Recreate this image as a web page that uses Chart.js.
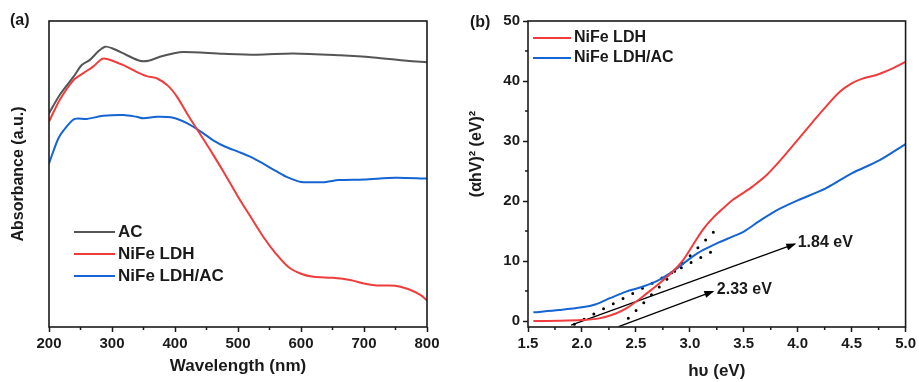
<!DOCTYPE html>
<html>
<head>
<meta charset="utf-8">
<script src="https://cdn.jsdelivr.net/npm/chart.js@4.4.1/dist/chart.umd.min.js"></script>
<style>
  body { margin: 0; background: #fff; }
  #wrap { position: relative; width: 919px; height: 382px; }
  canvas { position: absolute; top: 0; }
</style>
</head>
<body>
<div id="wrap">
  <canvas id="absChart" width="460" height="382" style="left:0"></canvas>
  <canvas id="taucChart" width="459" height="382" style="left:460px"></canvas>
</div>
<script>
// ---- panel (a): UV-vis absorbance ----
const acWl = [200, 217, 239, 252, 265, 278, 289, 300, 323, 344, 358, 376, 397, 413, 477, 530, 588, 662, 715, 768, 800];
const acAbs = [0.698, 0.758, 0.818, 0.856, 0.873, 0.900, 0.916, 0.911, 0.889, 0.870, 0.870, 0.883, 0.894, 0.899, 0.893, 0.890, 0.894, 0.888, 0.881, 0.870, 0.865];

const ldhWl = [200, 217, 239, 254, 270, 284, 292, 318, 339, 355, 371, 389, 403, 419, 440, 460, 480, 500, 520, 540, 560, 580, 600, 620, 650, 680, 700, 720, 750, 770, 790, 800];
const ldhAbs = [0.671, 0.742, 0.807, 0.829, 0.851, 0.876, 0.876, 0.856, 0.834, 0.820, 0.813, 0.788, 0.753, 0.698, 0.630, 0.565, 0.497, 0.426, 0.360, 0.295, 0.240, 0.196, 0.174, 0.164, 0.161, 0.153, 0.142, 0.136, 0.135, 0.124, 0.104, 0.087];

const compWl = [200, 215, 228, 241, 260, 286, 318, 339, 350, 371, 397, 419, 445, 460, 480, 500, 520, 540, 560, 580, 600, 620, 640, 660, 700, 750, 800];
const compAbs = [0.534, 0.617, 0.655, 0.680, 0.680, 0.690, 0.693, 0.687, 0.682, 0.687, 0.684, 0.666, 0.633, 0.611, 0.589, 0.573, 0.556, 0.534, 0.510, 0.488, 0.474, 0.473, 0.474, 0.480, 0.482, 0.488, 0.485];

const wlTicks = [200, 300, 400, 500, 600, 700, 800];
const wlMinor = [250, 350, 450, 550, 650, 750];

// ---- panel (b): Tauc plot ----
const ldhEv = [1.55, 1.79, 2.0, 2.16, 2.32, 2.41, 2.5, 2.6, 2.72, 2.84, 2.94, 3.03, 3.12, 3.21, 3.31, 3.4, 3.5, 3.58, 3.71, 3.83, 4.0, 4.14, 4.26, 4.39, 4.5, 4.6, 4.73, 4.88, 5.0];
const ldhTauc = [0, 0.05, 0.17, 0.44, 1.3, 2.1, 3.2, 4.6, 6.3, 8.2, 10.2, 12.7, 15.2, 17.1, 18.8, 20.2, 21.4, 22.4, 24.3, 26.6, 30.2, 33.2, 35.7, 38.2, 39.6, 40.4, 41.0, 42.1, 43.2];

const compEv = [1.55, 1.79, 2.0, 2.13, 2.26, 2.41, 2.56, 2.72, 2.87, 3.0, 3.12, 3.27, 3.4, 3.5, 3.64, 3.8, 4.0, 4.26, 4.5, 4.76, 5.0];
const compTauc = [1.44, 1.83, 2.28, 2.8, 3.8, 4.9, 5.7, 6.9, 8.6, 10.4, 11.8, 13.1, 14.1, 14.9, 16.6, 18.4, 20.1, 22.1, 24.6, 26.8, 29.5];

// dotted tangents
const fitCompEv = [1.93, 3.26];
const fitCompTauc = [-0.55, 12.1];
const fitLdhEv = [2.43, 3.24];
const fitLdhTauc = [0.45, 15.2];

// arrows + band gap labels
const arrow1Ev = [1.90, 3.97];
const arrow1Tauc = [-0.67, 12.8];
const arrow2Ev = [2.34, 3.21];
const arrow2Tauc = [-0.94, 4.9];
const gapLabels = ['1.84 eV', '2.33 eV'];
const gapLabelEv = [4.0, 3.25];
const gapLabelTauc = [13.1, 5.17];

const evTicks = [1.5, 2.0, 2.5, 3.0, 3.5, 4.0, 4.5, 5.0];
const evMinor = [1.75, 2.25, 2.75, 3.25, 3.75, 4.25, 4.75];
const taucTicks = [0, 10, 20, 30, 40, 50];
const taucMinor = [5, 15, 25, 35, 45];

const GREY = '#555555';
const RED = '#f03c3c';
const BLUE = '#1464d4';
const INK = '#1a1a1a';
const FONT = "'Liberation Sans', Arial, Helvetica, sans-serif";

Chart.defaults.font.family = FONT;
Chart.defaults.font.weight = 'bold';
Chart.defaults.color = INK;

const xy = (xs, ys) => xs.map((x, i) => ({ x, y: ys[i] }));
const fixedTicks = values => scale => { scale.ticks = values.map(v => ({ value: v })); };

function curve(label, xs, ys, color) {
  return { label, data: xy(xs, ys), borderColor: color, borderWidth: 2, pointRadius: 0, tension: 0.3 };
}

function drawFrame(ctx, area) {
  ctx.save();
  ctx.strokeStyle = INK;
  ctx.lineWidth = 1.6;
  ctx.strokeRect(area.left, area.top, area.right - area.left, area.bottom - area.top);
  ctx.restore();
}

function drawMinor(ctx, scale, values, len) {
  ctx.save();
  ctx.strokeStyle = INK;
  ctx.lineWidth = 1.5;
  ctx.beginPath();
  values.forEach(v => {
    const p = scale.getPixelForValue(v);
    if (scale.isHorizontal()) {
      ctx.moveTo(p, scale.top);
      ctx.lineTo(p, scale.top + len);
    } else {
      ctx.moveTo(scale.right, p);
      ctx.lineTo(scale.right - len, p);
    }
  });
  ctx.stroke();
  ctx.restore();
}

function drawLegend(ctx, items, x, y, gap, lineLen, size) {
  ctx.save();
  ctx.font = `bold ${size}px ${FONT}`;
  ctx.textBaseline = 'middle';
  ctx.textAlign = 'left';
  items.forEach((it, i) => {
    const yy = y + i * gap;
    ctx.strokeStyle = it.borderColor;
    ctx.lineWidth = 2.2;
    ctx.beginPath();
    ctx.moveTo(x, yy);
    ctx.lineTo(x + lineLen, yy);
    ctx.stroke();
    ctx.fillStyle = INK;
    ctx.fillText(it.label, x + lineLen + 3, yy);
  });
  ctx.restore();
}

function drawText(ctx, text, x, y, size, align) {
  ctx.save();
  ctx.font = `bold ${size}px ${FONT}`;
  ctx.fillStyle = INK;
  ctx.textAlign = align || 'left';
  ctx.textBaseline = 'middle';
  ctx.fillText(text, x, y);
  ctx.restore();
}

const axisBase = {
  grid: { display: true, drawOnChartArea: false, drawTicks: true, tickLength: 5, tickWidth: 1.5, tickColor: INK },
  border: { display: false },
  ticks: { font: { size: 15, weight: 'bold' }, color: INK, padding: 3, maxRotation: 0, autoSkip: false }
};

// ---------- chart (a) ----------
const absDatasets = [
  curve('AC', acWl, acAbs, GREY),
  curve('NiFe LDH', ldhWl, ldhAbs, RED),
  curve('NiFe LDH/AC', compWl, compAbs, BLUE)
];

new Chart(document.getElementById('absChart'), {
  type: 'line',
  data: { datasets: absDatasets },
  options: {
    responsive: false,
    animation: false,
    layout: { padding: { top: 21, right: 33, left: 0, bottom: 0 } },
    plugins: { legend: { display: false }, tooltip: { enabled: false } },
    scales: {
      x: {
        ...axisBase,
        type: 'linear',
        min: 200,
        max: 800,
        afterBuildTicks: fixedTicks(wlTicks),
        afterFit: s => { s.height = 55; },
        title: { display: true, text: 'Wavelength (nm)', font: { size: 17, weight: 'bold' }, color: INK, padding: { top: 0, bottom: 5 } }
      },
      y: {
        min: 0,
        max: 1,
        grid: { display: false },
        border: { display: false },
        ticks: { display: false },
        afterFit: s => { s.width = 49; },
        title: { display: true, text: 'Absorbance (a.u.)', font: { size: 16, weight: 'bold' }, color: INK, padding: { top: 9, bottom: 0 } }
      }
    }
  },
  plugins: [{
    id: 'absDecor',
    afterDraw(chart) {
      const { ctx, chartArea, scales } = chart;
      drawFrame(ctx, chartArea);
      drawMinor(ctx, scales.x, wlMinor, 3);
      drawLegend(ctx, absDatasets, 74, 232, 22, 41, 17);
      drawText(ctx, '(a)', 10, 21, 16);
    }
  }]
});

// ---------- chart (b) ----------
const taucDatasets = [
  curve('NiFe LDH', ldhEv, ldhTauc, RED),
  curve('NiFe LDH/AC', compEv, compTauc, BLUE)
];
const dotted = (xs, ys) => ({
  data: xy(xs, ys), borderColor: '#000', borderWidth: 3, borderDash: [0, 11],
  borderCapStyle: 'round', pointRadius: 0, tension: 0
});
const arrow = (xs, ys) => ({
  data: xy(xs, ys), borderColor: '#000', borderWidth: 1.3, pointRadius: 0, tension: 0, isArrow: true
});

new Chart(document.getElementById('taucChart'), {
  type: 'line',
  data: {
    datasets: [
      ...taucDatasets,
      dotted(fitCompEv, fitCompTauc),
      dotted(fitLdhEv, fitLdhTauc),
      arrow(arrow1Ev, arrow1Tauc),
      arrow(arrow2Ev, arrow2Tauc)
    ]
  },
  options: {
    responsive: false,
    animation: false,
    layout: { padding: { top: 21, right: 12, left: 0, bottom: 0 } },
    plugins: { legend: { display: false }, tooltip: { enabled: false } },
    scales: {
      x: {
        ...axisBase,
        type: 'linear',
        min: 1.5,
        max: 5.0,
        afterBuildTicks: fixedTicks(evTicks),
        ticks: { ...axisBase.ticks, callback: v => v.toFixed(1) },
        afterFit: s => { s.height = 55; },
        title: { display: true, text: 'h\u03c5 (eV)', font: { size: 17, weight: 'bold' }, color: INK, padding: { top: 0, bottom: 0 } }
      },
      y: {
        ...axisBase,
        min: -1,
        max: 50,
        afterBuildTicks: fixedTicks(taucTicks),
        afterFit: s => { s.width = 68; }
      }
    }
  },
  plugins: [{
    id: 'taucDecor',
    afterDraw(chart) {
      const { ctx, chartArea, scales } = chart;
      drawFrame(ctx, chartArea);
      drawMinor(ctx, scales.x, evMinor, 3);
      drawMinor(ctx, scales.y, taucMinor, 3);

      // arrowheads at the end of the arrow datasets
      chart.data.datasets.forEach((ds, i) => {
        if (!ds.isArrow) return;
        const pts = chart.getDatasetMeta(i).data;
        const a = pts[pts.length - 2], b = pts[pts.length - 1];
        const ang = Math.atan2(b.y - a.y, b.x - a.x);
        ctx.save();
        ctx.translate(b.x, b.y);
        ctx.rotate(ang);
        ctx.fillStyle = '#000';
        ctx.beginPath();
        ctx.moveTo(2, 0);
        ctx.lineTo(-8, -3.5);
        ctx.lineTo(-8, 3.5);
        ctx.closePath();
        ctx.fill();
        ctx.restore();
      });

      gapLabels.forEach((t, i) => {
        drawText(ctx, t, scales.x.getPixelForValue(gapLabelEv[i]), scales.y.getPixelForValue(gapLabelTauc[i]), 16);
      });

      drawLegend(ctx, taucDatasets, 73, 38, 20, 38, 16);
      drawText(ctx, '(b)', 10, 23, 16);

      // y title
      ctx.save();
      ctx.translate(17, 154);
      ctx.rotate(-Math.PI / 2);
      drawText(ctx, '(\u03b1hV)\u00b2 (eV)\u00b2', 0, 0, 16, 'center');
      ctx.restore();
    }
  }]
});
</script>
</body>
</html>
